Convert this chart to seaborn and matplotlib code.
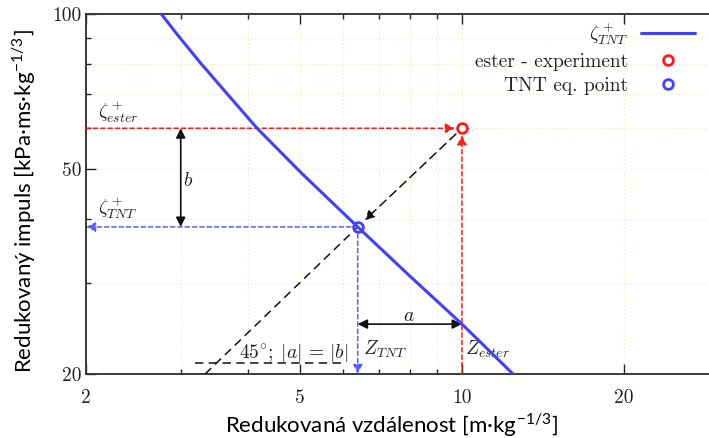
import matplotlib
matplotlib.use("Agg")
import matplotlib.pyplot as plt
import seaborn as sns
import pandas as pd
from matplotlib.lines import Line2D
from matplotlib.ticker import FixedLocator, FixedFormatter, NullFormatter

# ---------------- data ----------------
curve_z = [2.76, 2.99, 3.27, 3.65, 4.16, 5.03, 6.40, 7.97, 10.0, 12.44]
curve_i = [100, 89.9, 80.2, 70.2, 60.0, 49.1, 38.6, 31.1, 25.0, 20.0]
ester_z, ester_i = 10.0, 60.0
tnt_z, tnt_i = 6.40, 38.6
diag_z = [3.33, 6.40]
diag_i = [20.0, 38.6]
angle_z = [3.19, 6.08]
angle_i = [21.0, 21.0]
a_level = 25.0
b_pos = 3.0
x_limits = [2, 30]
y_limits = [20, 100]
x_major = [2, 5, 10, 20]
x_major_labels = ["2", "5", "10", "20"]
x_minor = [3, 4, 6, 7, 8, 9, 30]
y_major = [20, 50, 100]
y_major_labels = ["20", "50", "100"]
y_minor = [30, 40, 60, 70, 80, 90]

BLUE = "#4040ff"
BLUE_D = "#5a5aff"
RED = "#ff1a1a"
TXT = "#222222"
CM = "cmr10"

sns.set_theme(style="white")
plt.rcParams["font.family"] = ["Lato", "DejaVu Sans"]
plt.rcParams["mathtext.fontset"] = "cm"
plt.rcParams["axes.formatter.use_mathtext"] = True

fig = plt.figure(figsize=(7.09, 4.38), dpi=100)
W, H = 709, 438
ax = fig.add_axes([86 / W, 64 / H, 632.6 / W, 360 / H])
ax.set_xscale("log")
ax.set_yscale("log")
ax.set_xlim(x_limits)
ax.set_ylim(y_limits)

# ticks and grid
ax.xaxis.set_major_locator(FixedLocator(x_major))
ax.xaxis.set_minor_locator(FixedLocator(x_minor))
ax.yaxis.set_major_locator(FixedLocator(y_major))
ax.yaxis.set_minor_locator(FixedLocator(y_minor))
ax.xaxis.set_major_formatter(FixedFormatter(x_major_labels))
ax.yaxis.set_major_formatter(FixedFormatter(y_major_labels))
ax.xaxis.set_minor_formatter(NullFormatter())
ax.yaxis.set_minor_formatter(NullFormatter())
ax.grid(True, which="both", color="#ecebc8", linestyle=(0, (1, 2)), lw=0.9)
ax.set_axisbelow(True)

ax.tick_params(which="both", direction="in", top=True, right=True,
               bottom=True, left=True, colors="#222222", width=1.0)
ax.tick_params(which="major", length=7.5)
ax.tick_params(which="minor", length=3.5)
ax.tick_params(axis="x", which="major", pad=11, labelsize=14, labelcolor=TXT)
ax.tick_params(axis="y", which="major", pad=3, labelsize=14, labelcolor=TXT)
for lab in ax.get_xticklabels() + ax.get_yticklabels():
    lab.set_family(CM)
for s in ax.spines.values():
    s.set_color("#3a3a3a")
    s.set_linewidth(1.4)

# curve
df = pd.DataFrame({"z": curve_z, "i": curve_i})
sns.lineplot(data=df, x="z", y="i", ax=ax, color=BLUE, lw=2.2, sort=False,
             zorder=4, legend=False)

dash_s = (0, (2.8, 2.0))
# red guide arrows (to ester point)
ax.annotate("", xy=(ester_z, ester_i), xytext=(x_limits[0], ester_i),
            arrowprops=dict(arrowstyle="-|>", color=RED, lw=1.1, linestyle=dash_s,
                            shrinkA=0, shrinkB=5, mutation_scale=14), zorder=3)
ax.annotate("", xy=(ester_z, ester_i), xytext=(ester_z, y_limits[0]),
            arrowprops=dict(arrowstyle="-|>", color=RED, lw=1.1, linestyle=dash_s,
                            shrinkA=0, shrinkB=5, mutation_scale=14), zorder=3)
# blue guide arrows (from TNT point)
ax.annotate("", xy=(x_limits[0], tnt_i), xytext=(tnt_z, tnt_i),
            arrowprops=dict(arrowstyle="-|>", color=BLUE_D, lw=1.1, linestyle=dash_s,
                            shrinkA=5, shrinkB=0, mutation_scale=14), zorder=3)
ax.annotate("", xy=(tnt_z, y_limits[0]), xytext=(tnt_z, tnt_i),
            arrowprops=dict(arrowstyle="-|>", color=BLUE_D, lw=1.1, linestyle=dash_s,
                            shrinkA=5, shrinkB=0, mutation_scale=14), zorder=3)
# black 45° line
dash_l = (0, (5.5, 3.5))
ax.annotate("", xy=(tnt_z, tnt_i), xytext=(ester_z, ester_i),
            arrowprops=dict(arrowstyle="-|>", color="#111111", lw=1.1, linestyle=dash_l,
                            shrinkA=6, shrinkB=7, mutation_scale=14), zorder=3)
ax.plot(diag_z, diag_i, color="#111111", lw=1.1, linestyle=dash_l, zorder=3)
ax.plot(angle_z, angle_i, color="#111111", lw=1.1, linestyle=dash_l, zorder=3)

# a and b double arrows
ax.annotate("", xy=(ester_z, a_level), xytext=(tnt_z, a_level),
            arrowprops=dict(arrowstyle="<|-|>", color="#111111", lw=1.2,
                            shrinkA=0, shrinkB=0, mutation_scale=14), zorder=3)
ax.annotate("", xy=(b_pos, tnt_i), xytext=(b_pos, ester_i),
            arrowprops=dict(arrowstyle="<|-|>", color="#111111", lw=1.2,
                            shrinkA=0, shrinkB=0, mutation_scale=14), zorder=3)

# points
ax.plot([ester_z], [ester_i], marker="o", ms=7, mew=2, mfc="white", mec=RED,
        ls="none", zorder=5)
ax.plot([tnt_z], [tnt_i], marker="o", ms=7, mew=2, mfc="none", mec=BLUE,
        ls="none", zorder=5)

# annotation texts
fs = 14
ax.text(2.105, 60.9, r"$\zeta^+_{ester}$", fontsize=fs, color=TXT, ha="left", va="bottom", zorder=2)
ax.text(2.105, 39.6, r"$\zeta^+_{TNT}$", fontsize=fs, color=TXT, ha="left", va="bottom", zorder=2)
ax.text(3.095, 47.6, r"$b$", fontsize=fs, color=TXT, ha="center", va="center", zorder=2)
ax.text(7.97, 26.0, r"$a$", fontsize=fs, color=TXT, ha="center", va="center", zorder=2)
ax.text(4.86, 21.38, r"$45^{\circ};\;|a|\,{=}\,|b|$", fontsize=fs, color=TXT,
        ha="center", va="baseline", zorder=2)
ax.text(6.55, 21.77, r"$Z_{TNT}$", fontsize=fs, color=TXT, ha="left", va="baseline", zorder=2)
ax.text(10.13, 21.77, r"$Z_{ester}$", fontsize=fs, color=TXT, ha="left", va="baseline", zorder=2)

# legend (gnuplot style: text then sample)
handles = [
    Line2D([], [], color=BLUE, lw=2.2),
    Line2D([], [], color=RED, marker="o", ms=7, mew=2, mfc="none", ls="none"),
    Line2D([], [], color=BLUE, marker="o", ms=7, mew=2, mfc="none", ls="none"),
]
labels = [r"$\zeta^+_{TNT}$", "ester - experiment", "TNT eq. point"]
leg = ax.legend(handles, labels, loc="upper right", bbox_to_anchor=(695 / W, 1 - 20 / H),
                bbox_transform=fig.transFigure, frameon=False, markerfirst=False,
                handlelength=2.8, handletextpad=0.65, labelspacing=0.32,
                borderpad=0, borderaxespad=0, prop={"family": CM, "size": 14})
for t in leg.get_texts():
    t.set_color(TXT)

# axis labels
ax.set_xlabel("Redukovaná vzdálenost [m·kg$^{\\mathregular{-1/3}}$]", fontsize=16,
              color="black")
ax.set_ylabel("Redukovaný impuls [kPa·ms·kg$^{\\mathregular{-1/3}}$]", fontsize=16,
              color="black")
ax.xaxis.set_label_coords((392 - 86) / 632.6, (374 - 425) / 360)
ax.xaxis.label.set_va("center")
ax.yaxis.set_label_coords((24 - 86) / 632.6, (374 - 201) / 360)
ax.yaxis.label.set_va("center")

fig.savefig("out.png", dpi=100)
